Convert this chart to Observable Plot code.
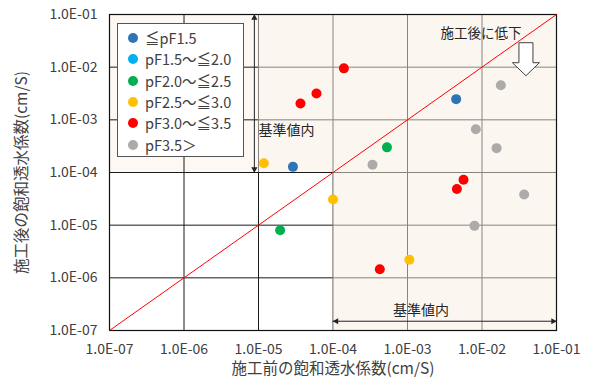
<!DOCTYPE html>
<html>
<head>
<meta charset="utf-8">
<script src="https://cdn.jsdelivr.net/npm/d3@7"></script>
<script src="https://cdn.jsdelivr.net/npm/@observablehq/plot@0.6"></script>
<style>
  html, body { margin: 0; padding: 0; background: #fff; }
  #wrap { position: relative; width: 592px; height: 380px; font-family: "Noto Sans CJK JP", "Noto Sans", sans-serif; }
  #legend { position: absolute; left: 117px; top: 23px; width: 125px; height: 132px; background: #fff; border: 1px solid #555; }
  .li { position: absolute; left: 0; height: 20px; line-height: 20px; font-size: 14.5px; color: #404040; white-space: nowrap; }
  .sw { position: absolute; left: 10px; top: 5px; width: 10px; height: 10px; border-radius: 50%; }
  .lt { position: absolute; left: 27px; top: 0; }
</style>
</head>
<body>
<div id="wrap"></div>
<script>
// ---- axis ticks & labels ----
const xTicks = [1e-7, 1e-6, 1e-5, 1e-4, 1e-3, 1e-2, 1e-1];
const xTickLabels = ["1.0E-07", "1.0E-06", "1.0E-05", "1.0E-04", "1.0E-03", "1.0E-02", "1.0E-01"];
const yTicks = [1e-7, 1e-6, 1e-5, 1e-4, 1e-3, 1e-2, 1e-1];
const yTickLabels = ["1.0E-07", "1.0E-06", "1.0E-05", "1.0E-04", "1.0E-03", "1.0E-02", "1.0E-01"];
const xTitle = "施工前の飽和透水係数(cm/S)";
const yTitle = "施工後の飽和透水係数(cm/S)";

// ---- series ----
const seriesNames = ["≦pF1.5", "pF1.5～≦2.0", "pF2.0～≦2.5", "pF2.5～≦3.0", "pF3.0～≦3.5", "pF3.5＞"];
const seriesColors = ["#2E75B6", "#00B0F0", "#00B050", "#FFC000", "#FF0000", "#AEAAAA"];
const before_pF15 = [2.9e-5, 4.5e-3];
const after_pF15  = [1.28e-4, 2.47e-3];
const before_pF20 = [];
const after_pF20  = [];
const before_pF25 = [1.95e-5, 5.3e-4];
const after_pF25  = [8.0e-6, 3.0e-4];
const before_pF30 = [1.18e-5, 1.0e-4, 1.06e-3];
const after_pF30  = [1.5e-4, 3.07e-5, 2.2e-6];
const before_pF35 = [3.66e-5, 6.0e-5, 1.4e-4, 4.25e-4, 4.6e-3, 5.65e-3];
const after_pF35  = [2.04e-3, 3.16e-3, 9.5e-3, 1.46e-6, 4.86e-5, 7.27e-5];
const before_pF35over = [1.79e-2, 8.26e-3, 1.57e-2, 3.39e-4, 7.92e-3, 3.68e-2];
const after_pF35over  = [4.55e-3, 6.64e-4, 2.9e-4, 1.4e-4, 9.7e-6, 3.83e-5];

// ---- reference lines / zones ----
const oneToOne = [1e-7, 1e-1];
const limit = 1e-4;           // 基準値
const zoneLabel = "基準値内";
const dropLabel = "施工後に低下";
// annotation anchors (data coordinates)
const vZoneLabelPos = {x: 1e-5, y: 6.3e-4};
const hZoneLabelPos = {x: 1.52e-3, y: 2.4e-7};
const vArrowX = 8.8e-6;
const hArrowY = 1.5e-7;
const dropLabelPos = {x: 9.7e-3, y: 4.35e-2};
const dropArrowPos = {x: 3.95e-2, y: 2.85e-2};

const beforeSets = [before_pF15, before_pF20, before_pF25, before_pF30, before_pF35, before_pF35over];
const afterSets  = [after_pF15, after_pF20, after_pF25, after_pF30, after_pF35, after_pF35over];
const points = [];
beforeSets.forEach((bs, s) => bs.forEach((b, i) => points.push({s: seriesNames[s], before: b, after: afterSets[s][i]})));

const font = "'Noto Sans CJK JP', 'Noto Sans', sans-serif";

const plot = Plot.plot({
  width: 592,
  height: 380,
  marginLeft: 109,
  marginRight: 36,
  marginTop: 14,
  marginBottom: 50,
  style: {fontFamily: font, fontSize: "14px", color: "#404040", background: "transparent", overflow: "visible"},
  x: {type: "log", domain: [xTicks[0], xTicks[xTicks.length - 1]], axis: null},
  y: {type: "log", domain: [yTicks[0], yTicks[yTicks.length - 1]], axis: null},
  color: {domain: seriesNames, range: seriesColors},
  marks: [
    // light tint of the upper band
    Plot.rect([0], {x1: xTicks[0], x2: 1e-5, y1: limit, y2: yTicks[yTicks.length - 1], fill: "#fdf8f4"}),
    // grid
    Plot.ruleX(xTicks, {stroke: "#1a1a1a", strokeWidth: 1}),
    Plot.ruleY(yTicks, {stroke: "#1a1a1a", strokeWidth: 1}),
    // shaded zones (over the grid, semi transparent)
    Plot.rect([0], {x1: 1e-5, x2: xTicks[xTicks.length - 1], y1: limit, y2: yTicks[yTicks.length - 1], fill: "#faeee4", fillOpacity: 0.5}),
    Plot.rect([0], {x1: limit, x2: xTicks[xTicks.length - 1], y1: yTicks[0], y2: limit, fill: "#faeee4", fillOpacity: 0.5}),
    Plot.frame({stroke: "#111", strokeWidth: 1.2}),
    // 1:1 line
    Plot.line(oneToOne, {x: d => d, y: d => d, stroke: "#FF0000", strokeWidth: 1}),
    // range arrows
    Plot.ruleX([vArrowX], {y1: limit, y2: yTicks[yTicks.length - 1], stroke: "#222", strokeWidth: 1}),
    Plot.dot([yTicks[yTicks.length - 1]], {x: vArrowX, y: d => d, symbol: "triangle", r: 2.3, fill: "#222", stroke: null, dy: 3.4}),
    Plot.dot([limit], {x: vArrowX, y: d => d, symbol: "triangle", r: 2.3, fill: "#222", stroke: null, dy: -3.4, rotate: 180}),
    Plot.ruleY([hArrowY], {x1: limit, x2: xTicks[xTicks.length - 1], stroke: "#222", strokeWidth: 1}),
    Plot.dot([limit], {x: d => d, y: hArrowY, symbol: "triangle", r: 2.3, fill: "#222", stroke: null, dx: 3.4, rotate: -90}),
    Plot.dot([xTicks[xTicks.length - 1]], {x: d => d, y: hArrowY, symbol: "triangle", r: 2.3, fill: "#222", stroke: null, dx: -3.4, rotate: 90}),
    // data points
    Plot.dot(points, {x: "before", y: "after", fill: "s", r: 5, stroke: null}),
    // tick labels
    Plot.text(xTicks, {x: d => d, y: yTicks[0], dy: 19, lineAnchor: "middle", text: (d, i) => xTickLabels[i], fill: "#404040", fontSize: 14}),
    Plot.text(yTicks, {x: xTicks[0], y: d => d, dx: -12, textAnchor: "end", lineAnchor: "middle", text: (d, i) => yTickLabels[i], fill: "#404040", fontSize: 14}),
    // axis titles
    Plot.text([xTitle], {frameAnchor: "bottom", dy: 39, textAnchor: "middle", lineAnchor: "middle", text: d => d, fill: "#404040", fontSize: 15.5}),
    Plot.text([yTitle], {frameAnchor: "left", dx: -87, rotate: -90, textAnchor: "middle", lineAnchor: "middle", text: d => d, fill: "#404040", fontSize: 15.5}),
    // annotations
    Plot.text([zoneLabel], {x: vZoneLabelPos.x, y: vZoneLabelPos.y, textAnchor: "start", text: d => d, fill: "#262626", fontSize: 14}),
    Plot.text([zoneLabel], {x: hZoneLabelPos.x, y: hZoneLabelPos.y, text: d => d, fill: "#262626", fontSize: 14}),
    Plot.text([dropLabel], {x: dropLabelPos.x, y: dropLabelPos.y, text: d => d, fill: "#262626", fontSize: 13.5})
  ]
});

// block arrow "施工後に低下" drawn at a data anchor through the plot's scales
const sx = plot.scale("x"), sy = plot.scale("y");
const ax = sx.apply(dropArrowPos.x), ay = sy.apply(dropArrowPos.y);
const shape = [[-7, 0], [7, 0], [7, 20], [13.5, 20], [0, 33], [-13.5, 20], [-7, 20]];
d3.select(plot).append("path")
  .attr("d", "M" + shape.map(p => (ax + p[0]) + "," + (ay + p[1])).join("L") + "Z")
  .attr("fill", "#fff").attr("stroke", "#404040").attr("stroke-width", 1);

const wrap = document.getElementById("wrap");
wrap.appendChild(plot);

// legend
const legend = document.createElement("div");
legend.id = "legend";
seriesNames.forEach((name, i) => {
  const row = document.createElement("div");
  row.className = "li";
  row.style.top = (4 + i * 21.3) + "px";
  row.style.width = "100%";
  const sw = document.createElement("span");
  sw.className = "sw";
  sw.style.background = seriesColors[i];
  const t = document.createElement("span");
  t.className = "lt";
  t.textContent = name;
  row.appendChild(sw); row.appendChild(t);
  legend.appendChild(row);
});
wrap.appendChild(legend);
</script>
</body>
</html>
